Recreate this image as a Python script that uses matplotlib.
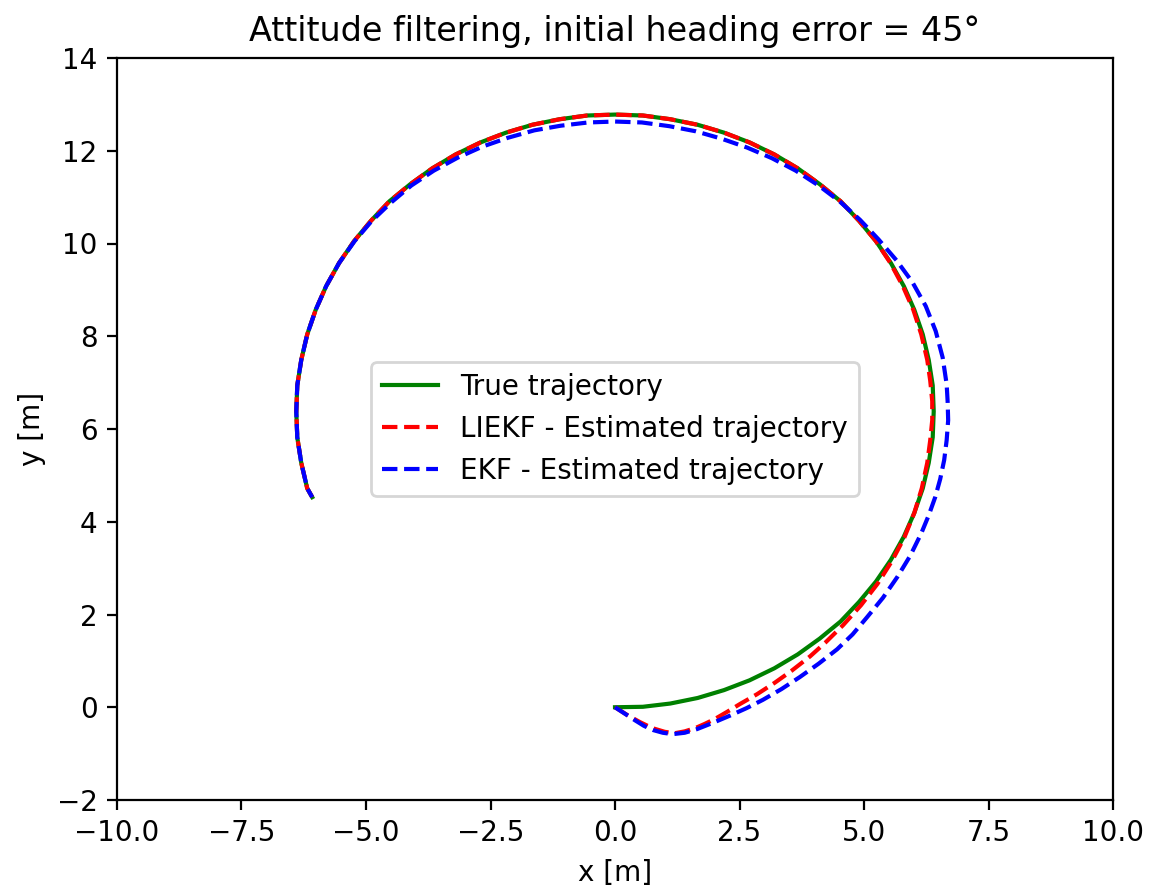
import matplotlib
matplotlib.use("Agg")
import matplotlib.pyplot as plt

# values
true_x = [0.00, 0.56, 1.11, 1.66, 2.19, 2.70, 3.20, 3.67, 4.11, 4.53, 4.90, 5.24,
          5.54, 5.80, 6.01, 6.18, 6.30, 6.38, 6.40, 6.38, 6.30, 6.18, 6.01, 5.80,
          5.54, 5.24, 4.90, 4.53, 4.11, 3.67, 3.20, 2.70, 2.19, 1.66, 1.11, 0.56,
          0.00, -0.56, -1.11, -1.66, -2.19, -2.70, -3.20, -3.67, -4.11, -4.53,
          -4.90, -5.24, -5.54, -5.80, -6.01, -6.18, -6.30, -6.38, -6.40, -6.38,
          -6.30, -6.18, -6.08]
true_y = [0.00, 0.01, 0.08, 0.20, 0.37, 0.58, 0.84, 1.14, 1.48, 1.85, 2.27, 2.71,
          3.18, 3.68, 4.19, 4.72, 5.27, 5.82, 6.38, 6.94, 7.49, 8.04, 8.57, 9.08,
          9.58, 10.05, 10.49, 10.91, 11.28, 11.62, 11.92, 12.18, 12.39, 12.56,
          12.68, 12.76, 12.78, 12.76, 12.68, 12.56, 12.39, 12.18, 11.92, 11.62,
          11.28, 10.91, 10.49, 10.05, 9.58, 9.08, 8.57, 8.04, 7.49, 6.94, 6.38,
          5.82, 5.27, 4.72, 4.53]

liekf_x = [0.00, 0.25, 0.50, 0.75, 1.00, 1.20, 1.40, 1.61, 1.80, 2.01, 2.25, 2.51,
           2.85, 3.21, 3.55, 3.92, 4.22, 4.58, 4.94, 5.27, 5.56, 5.81, 6.01, 6.16,
           6.27, 6.33, 6.37, 6.37, 6.33, 6.27, 6.15, 5.99, 5.78, 5.53, 5.24, 4.90,
           4.53, 4.11, 3.67, 3.20, 2.70, 2.19, 1.66, 1.11, 0.56, 0.00, -0.56,
           -1.11, -1.66, -2.19, -2.70, -3.20, -3.67, -4.11, -4.53, -4.90, -5.24,
           -5.54, -5.80, -6.01, -6.18, -6.30, -6.38, -6.40, -6.38, -6.30, -6.18,
           -6.08]
liekf_y = [0.00, -0.17, -0.32, -0.45, -0.53, -0.56, -0.52, -0.45, -0.36, -0.25,
           -0.10, 0.07, 0.28, 0.53, 0.79, 1.10, 1.39, 1.77, 2.20, 2.66, 3.15, 3.66,
           4.19, 4.72, 5.27, 5.76, 6.19, 6.60, 7.04, 7.49, 8.04, 8.57, 9.08, 9.58,
           10.05, 10.49, 10.91, 11.28, 11.62, 11.92, 12.18, 12.39, 12.56, 12.68,
           12.76, 12.78, 12.76, 12.68, 12.56, 12.39, 12.18, 11.92, 11.62, 11.28,
           10.91, 10.49, 10.05, 9.58, 9.08, 8.57, 8.04, 7.49, 6.94, 6.38, 5.82,
           5.27, 4.72, 4.53]

ekf_x = [0.00, 0.20, 0.40, 0.58, 0.76, 0.96, 1.16, 1.40, 1.65, 1.98, 2.31, 2.64,
         2.97, 3.34, 3.71, 4.09, 4.46, 4.77, 5.06, 5.38, 5.67, 5.93, 6.15, 6.30,
         6.43, 6.53, 6.61, 6.66, 6.69, 6.68, 6.66, 6.58, 6.44, 6.24, 5.97, 5.65,
         5.29, 4.92, 4.52, 4.09, 3.63, 3.15, 2.65, 2.14, 1.62, 1.09, 0.54, 0.00,
         -0.54, -1.09, -1.62, -2.15, -2.66, -3.16, -3.64, -4.09, -4.50, -4.89,
         -5.23, -5.54, -5.80, -6.01, -6.18, -6.30, -6.38, -6.40, -6.38, -6.30,
         -6.18, -6.08]
ekf_y = [0.00, -0.14, -0.28, -0.40, -0.49, -0.55, -0.58, -0.55, -0.47, -0.33,
         -0.18, -0.02, 0.16, 0.39, 0.65, 0.94, 1.25, 1.57, 1.94, 2.36, 2.81, 3.27,
         3.75, 4.14, 4.53, 4.92, 5.33, 5.76, 6.19, 6.58, 6.96, 7.54, 8.11, 8.65,
         9.17, 9.64, 10.09, 10.51, 10.90, 11.25, 11.57, 11.84, 12.07, 12.26,
         12.42, 12.53, 12.61, 12.63, 12.61, 12.54, 12.44, 12.28, 12.09, 11.85,
         11.57, 11.25, 10.88, 10.48, 10.05, 9.58, 9.08, 8.57, 8.04, 7.49, 6.94,
         6.38, 5.82, 5.27, 4.72, 4.53]


def main():
    fig = plt.figure(figsize=(1149 / 200, 891 / 200), dpi=200)
    fig.subplots_adjust(left=117 / 1149, right=1113 / 1149,
                        bottom=1 - 800 / 891, top=1 - 58 / 891)
    ax = fig.add_subplot(111)

    ax.plot(true_x, true_y, "g", label="True trajectory")
    ax.plot(liekf_x, liekf_y, "r--", label="LIEKF - Estimated trajectory")
    ax.plot(ekf_x, ekf_y, "b--", label="EKF - Estimated trajectory")

    ax.set_xlim(-10, 10)
    ax.set_ylim(-2, 14)
    ax.set_title("Attitude filtering, initial heading error = 45°")
    ax.set_xlabel("x [m]")
    ax.set_ylabel("y [m]")
    ax.legend(loc="center")

    fig.savefig("out.png", dpi=200)


if __name__ == "__main__":
    main()
